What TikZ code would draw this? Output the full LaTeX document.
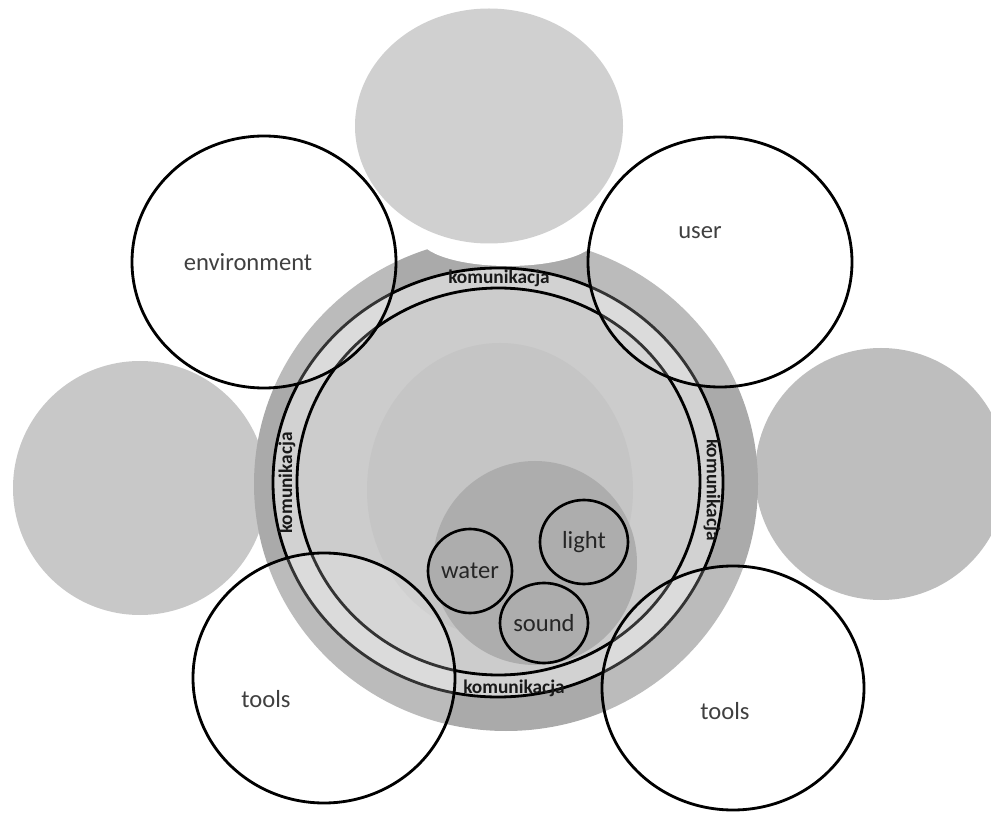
\documentclass[tikz,border=0pt]{standalone}
\usepackage{fontspec}
\setmainfont{Carlito}
\usetikzlibrary{shapes.geometric}

\definecolor{sidegray}{HTML}{C8C8C8}
\definecolor{topgray}{HTML}{D0D0D0}
\definecolor{ringgray}{HTML}{AAAAAA}
\definecolor{lightfill}{HTML}{D2D2D2}
\definecolor{innerfill}{HTML}{CCCCCC}
\definecolor{blobgray}{HTML}{C5C5C5}
\definecolor{coregray}{HTML}{ADADAD}
\definecolor{labelgray}{HTML}{404040}

\begin{document}
\begin{tikzpicture}[
  blob/.style={ellipse, inner sep=0pt, draw=none},
  ring/.style={ellipse, inner sep=0pt, draw=black, line width=1.6pt},
  part/.style={ellipse, inner sep=0pt, draw=black, line width=1.5pt, fill=coregray,
    font=\fontsize{14}{16}\selectfont, text=black!85},
  area/.style={ellipse, inner sep=0pt, draw=black, line width=1.6pt, fill=white, fill opacity=0.2,
    text opacity=1, font=\fontsize{14}{16}\selectfont, text=labelgray},
  komm/.style={inner sep=0pt, font=\fontsize{11}{12}\selectfont\bfseries, text=black!90}
]
\useasboundingbox[fill=white] (0,0) rectangle (19.82,16.24);
% grey background discs
\node (l)[blob, fill=sidegray, minimum width=5.08cm, minimum height=5.08cm] at (2.80,6.48) {};
\node (r)[blob, fill=sidegray!95!black, minimum width=5.04cm, minimum height=5.04cm] at (17.62,6.76) {};
\node (big)[blob, fill=ringgray, minimum width=10.08cm, minimum height=9.88cm] at (10.12,6.56) {};
\node (gap)[blob, fill=white, minimum width=3.52cm, minimum height=1.12cm] at (10.16,11.48) {};
\node (t)[blob, fill=topgray, minimum width=5.36cm, minimum height=4.70cm] at (9.78,13.72) {};
% komunikacja ring
\node (outer)[ring, fill=lightfill, minimum width=9.00cm, minimum height=8.58cm] at (9.96,6.59) {};
\node (inner)[ring, fill=innerfill, minimum width=8.06cm, minimum height=7.74cm] at (9.97,6.61) {};
\node (mid)[blob, fill=blobgray, minimum width=5.32cm, minimum height=5.88cm] at (10.00,6.44) {};
\node (core)[blob, fill=coregray, minimum width=4.08cm, minimum height=4.08cm] at (10.70,4.98) {};
% water, light, sound
\node (water)[part, minimum width=1.68cm, minimum height=1.68cm] at (9.40,4.82) {water};
\node (light)[part, minimum width=1.76cm, minimum height=1.68cm] at (11.68,5.40) {light};
\node (sound)[part, minimum width=1.76cm, minimum height=1.60cm] at (10.88,3.78) {sound};
\node (k1)[komm] at (9.98,10.68) {komunikacja};
\node (k2)[komm, rotate=90] at (5.74,6.58) {komunikacja};
\node (k3)[komm, rotate=-90] at (14.24,6.44) {komunikacja};
\node (k4)[komm] at (10.28,2.48) {komunikacja};
% outer circles
\node (env)[area, minimum width=5.28cm, minimum height=5.04cm,
  label={[xshift=-0.32cm, font=\fontsize{14}{16}\selectfont, text=labelgray]center:environment}] at (5.28,11.00) {};
\node (user)[area, minimum width=5.28cm, minimum height=5.00cm,
  label={[xshift=-0.40cm, yshift=0.58cm, font=\fontsize{14}{16}\selectfont, text=labelgray]center:user}] at (14.40,11.00) {};
\node (toolsl)[area, minimum width=5.24cm, minimum height=5.00cm,
  label={[xshift=-1.16cm, yshift=-0.42cm, font=\fontsize{14}{16}\selectfont, text=labelgray]center:tools}] at (6.48,2.68) {};
\node (toolsr)[area, minimum width=5.24cm, minimum height=4.88cm,
  label={[xshift=-0.16cm, yshift=-0.46cm, font=\fontsize{14}{16}\selectfont, text=labelgray]center:tools}] at (14.66,2.48) {};
\end{tikzpicture}
\end{document}
